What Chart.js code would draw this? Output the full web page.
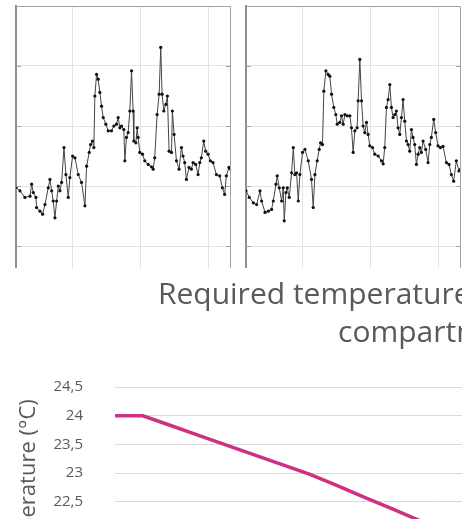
<!DOCTYPE html>
<html>
<head>
<meta charset="utf-8">
<title>Required temperature</title>
<script src="https://cdn.jsdelivr.net/npm/chart.js@4.4.1/dist/chart.umd.min.js"></script>
<style>
  html, body { margin: 0; padding: 0; background: #fff; overflow: hidden; }
  .clip { position: absolute; left: 0; width: 462px; overflow: hidden; }
  .wrap { position: absolute; left: 0; top: 0; }
</style>
</head>
<body>
<div class="clip" style="top:0;height:268px;">
  <div class="wrap" id="wrapLeft"><canvas id="left" width="219" height="304"></canvas></div>
  <div class="wrap" id="wrapRight"><canvas id="right" width="219" height="304"></canvas></div>
</div>
<div class="clip" style="top:268px;height:251px;">
  <div class="wrap" id="wrapReq"><canvas id="req" width="870" height="340"></canvas></div>
</div>
<script>
// upper left panel, measured temperature (hour of day, °C)
const hours1 = [
  1.00, 1.35, 1.79, 2.24, 2.38, 2.53, 2.76, 2.82, 3.12, 3.35,
  3.56, 3.85, 4.00, 4.15, 4.29, 4.44, 4.59, 4.74, 4.88, 5.03,
  5.24, 5.41, 5.62, 5.76, 6.00, 6.21, 6.50, 6.79, 7.09, 7.24,
  7.47, 7.59, 7.76, 7.88, 7.97, 8.12, 8.26, 8.41, 8.56, 8.71,
  8.94, 9.15, 9.44, 9.65, 9.88, 10.03, 10.18, 10.32, 10.53, 10.62,
  10.76, 10.91, 11.06, 11.21, 11.35, 11.41, 11.59, 11.71, 11.79, 11.94,
  12.18, 12.38, 12.68, 12.97, 13.12, 13.26, 13.47, 13.65, 13.79, 13.91,
  14.06, 14.24, 14.38, 14.53, 14.74, 14.82, 14.97, 15.18, 15.41, 15.62,
  15.76, 15.91, 16.06, 16.29, 16.50, 16.65, 16.88, 17.09, 17.24, 17.38,
  17.59, 17.76, 17.97, 18.18, 18.41, 18.71, 19.00, 19.24, 19.44, 19.59,
  19.82, 19.97
];
const temp1 = [
  21.98, 21.92, 21.81, 21.83, 22.03, 21.89, 21.81, 21.64, 21.58, 21.53,
  21.69, 21.97, 22.11, 21.92, 21.75, 21.47, 21.75, 22.00, 21.92, 22.06,
  22.64, 22.19, 21.81, 22.14, 22.50, 22.47, 22.19, 22.06, 21.67, 22.33,
  22.56, 22.69, 22.75, 22.64, 23.50, 23.86, 23.78, 23.56, 23.33, 23.14,
  23.03, 22.92, 22.92, 23.00, 23.03, 23.14, 22.97, 23.00, 22.94, 22.42,
  22.81, 22.89, 23.25, 23.92, 23.25, 22.75, 22.72, 22.97, 22.81, 22.56,
  22.53, 22.42, 22.36, 22.32, 22.28, 22.47, 23.19, 23.53, 24.31, 23.53,
  23.25, 23.36, 23.50, 22.58, 22.56, 23.25, 22.86, 22.42, 22.28, 22.64,
  22.50, 22.39, 22.11, 22.31, 22.28, 22.39, 22.36, 22.19, 22.39, 22.47,
  22.75, 22.58, 22.53, 22.42, 22.39, 22.19, 22.17, 21.97, 21.86, 22.17,
  22.31, 22.28
];

// upper right panel
const hours2 = [
  1.00, 1.29, 1.65, 1.94, 2.24, 2.38, 2.68, 2.97, 3.26, 3.41,
  3.65, 3.76, 3.94, 4.15, 4.29, 4.38, 4.53, 4.65, 4.82, 5.03,
  5.18, 5.32, 5.47, 5.62, 5.76, 6.00, 6.21, 6.50, 6.79, 6.94,
  7.09, 7.29, 7.47, 7.59, 7.76, 7.88, 8.06, 8.26, 8.41, 8.56,
  8.76, 8.94, 9.06, 9.29, 9.44, 9.59, 9.74, 9.94, 10.18, 10.32,
  10.47, 10.62, 10.82, 10.91, 11.06, 11.21, 11.35, 11.50, 11.65, 11.79,
  11.94, 12.18, 12.38, 12.68, 12.97, 13.12, 13.26, 13.41, 13.56, 13.71,
  13.85, 14.00, 14.15, 14.29, 14.44, 14.59, 14.74, 14.88, 15.03, 15.18,
  15.32, 15.47, 15.62, 15.76, 15.91, 16.06, 16.21, 16.35, 16.50, 16.65,
  16.88, 17.09, 17.24, 17.38, 17.59, 17.76, 17.97, 18.18, 18.41, 18.71,
  18.94, 19.15, 19.35, 19.59, 19.82, 19.97
];
const temp2 = [
  21.92, 21.81, 21.72, 21.69, 21.92, 21.75, 21.56, 21.58, 21.61, 21.75,
  22.03, 22.17, 21.97, 21.75, 21.97, 21.42, 21.89, 21.97, 21.81, 22.22,
  22.64, 22.19, 22.22, 21.75, 22.19, 22.56, 22.61, 22.42, 22.11, 21.64,
  22.19, 22.42, 22.61, 22.72, 22.69, 23.58, 23.92, 23.86, 23.83, 23.53,
  23.31, 23.19, 23.03, 23.06, 23.17, 23.03, 23.19, 23.17, 23.17, 22.97,
  22.56, 22.92, 22.97, 23.42, 24.11, 23.42, 23.00, 22.89, 23.06, 22.86,
  22.67, 22.64, 22.53, 22.50, 22.42, 22.37, 22.64, 23.31, 23.44, 23.69,
  23.31, 23.14, 23.19, 23.25, 22.97, 22.86, 23.14, 23.44, 23.08, 22.75,
  22.69, 22.58, 22.94, 22.81, 22.69, 22.36, 22.53, 22.64, 22.56, 22.75,
  22.61, 22.39, 22.69, 22.81, 23.11, 22.89, 22.67, 22.64, 22.66, 22.39,
  22.36, 22.19, 22.08, 22.42, 22.25, 22.28
];
const panelXTicks = [6, 12, 18];
const panelYTicks = [21, 22, 23, 24];

// lower chart, required temperature
const hourLabels = ['0', '1', '2', '3', '4', '5', '6', '7', '8', '9', '10', '11',
  '12', '13', '14', '15', '16', '17', '18', '19', '20', '21', '22', '23'];
const required = [24, 24, 23.83, 23.66, 23.49, 23.32, 23.15, 22.98, 22.78, 22.57, 22.37, 22.16, 21.96, 21.75];
const titleLines = ['Required temperature in the passenger', 'compartment'];
const yTitle = 'Temperature (°C)';

Chart.defaults.font.family = 'Open Sans';

//top and right edge of the small panels, plus the short inward ticks
const panelFrame = {
  id: 'panelFrame',
  afterDraw(chart) {
    const { ctx, chartArea: a, scales } = chart;
    ctx.save();
    ctx.strokeStyle = '#a3a3a3';
    ctx.lineWidth = 1;
    ctx.beginPath();
    ctx.moveTo(a.left, a.top + 0.5);
    ctx.lineTo(a.right - 0.5, a.top + 0.5);
    ctx.lineTo(a.right - 0.5, a.bottom);
    scales.y.ticks.forEach(t => {
      const py = Math.round(scales.y.getPixelForValue(t.value)) + 0.5;
      ctx.moveTo(a.left, py);
      ctx.lineTo(a.left + 5, py);
      ctx.moveTo(a.right, py);
      ctx.lineTo(a.right - 5, py);
    });
    ctx.stroke();
    ctx.restore();
  }
};

function panel(id, xs, ys) {
  return new Chart(document.getElementById(id), {
    type: 'scatter',
    data: {
      datasets: [{
        data: xs.map((x, i) => ({ x: x, y: ys[i] })),
        showLine: true,
        borderColor: '#444444',
        borderWidth: 1,
        pointRadius: 1.6,
        pointBackgroundColor: '#111111',
        pointBorderWidth: 0
      }]
    },
    options: {
      responsive: false,
      maintainAspectRatio: false,
      animation: false,
      layout: { padding: 2 },
      plugins: { legend: { display: false }, tooltip: { enabled: false } },
      scales: {
        x: {
          type: 'linear', min: 1, max: 20,
          afterBuildTicks: s => { s.ticks = panelXTicks.map(v => ({ value: v })); },
          ticks: { display: false },
          grid: { color: '#e3e3e3', drawTicks: false },
          border: { display: false }
        },
        y: {
          min: 20, max: 25,
          afterBuildTicks: s => { s.ticks = panelYTicks.map(v => ({ value: v })); },
          ticks: { display: false },
          grid: { color: '#e3e3e3', drawTicks: false },
          border: { color: '#8f8f8f', width: 2 }
        }
      }
    },
    plugins: [panelFrame]
  });
}

// resize the canvas so the plot area gets the wanted size, then move it in place
function fitArea(chart, wrap, left, top, width, height) {
  let a = chart.chartArea;
  chart.resize(Math.round(chart.width + width - (a.right - a.left)),
               Math.round(chart.height + height - (a.bottom - a.top)));
  chart.update();
  a = chart.chartArea;
  wrap.style.left = (left - a.left) + 'px';
  wrap.style.top = (top - a.top) + 'px';
}

const leftPanel = panel('left', hours1, temp1);
const rightPanel = panel('right', hours2, temp2);
fitArea(leftPanel, document.getElementById('wrapLeft'), 16, 6, 215, 300);
fitArea(rightPanel, document.getElementById('wrapRight'), 246, 6, 215, 300);

// the title is centred on the canvas, so the canvas width puts line one where it starts
const titleSize = 30;
const titleLh = 1.27;
const measure = document.createElement('canvas').getContext('2d');
measure.font = titleSize + 'px "Open Sans"';
const reqWidth = Math.round(2 * (158 + measure.measureText(titleLines[0]).width / 2));
const step = 27.86;
const plotWidth = step * (hourLabels.length - 1);
const rightGap = Math.max(0, reqWidth - 115 - plotWidth);

const reqCanvas = document.getElementById('req');
reqCanvas.width = reqWidth;

const req = new Chart(reqCanvas, {
  type: 'line',
  data: {
    labels: hourLabels,
    datasets: [{
      data: required,
      borderColor: '#cf3182',
      borderWidth: 3.5,
      pointRadius: 0,
      tension: 0,
      yAxisID: 'y'
    }]
  },
  options: {
    responsive: false,
    maintainAspectRatio: false,
    animation: false,
    layout: { padding: 0 },
    plugins: {
      legend: { display: false },
      tooltip: { enabled: false },
      title: {
        display: true,
        text: titleLines,
        color: '#595959',
        font: { size: titleSize, weight: 'normal', lineHeight: titleLh },
        padding: { top: 0, bottom: 40 }
      }
    },
    scales: {
      x: { display: false },
      y: {
        min: 21, max: 24.5,
        ticks: {
          stepSize: 0.5,
          padding: 32,
          color: '#595959',
          font: { size: 15 },
          callback: v => v.toString().replace('.', ',')
        },
        grid: { color: '#d9d9d9', drawTicks: false },
        border: { display: false },
        title: {
          display: true,
          text: yTitle,
          color: '#595959',
          font: { size: 22 },
          padding: { top: 16, bottom: 0 }
        },
        afterFit: s => { s.width = 115; }
      },
      y2: {
        type: 'linear',
        position: 'right',
        ticks: { display: false },
        grid: { display: false },
        border: { display: false },
        afterFit: s => { s.width = rightGap; }
      }
    }
  }
});

// first title line sits 92px above the 24,5 gridline
const lineHeight = titleSize * titleLh;
const gap = req.chartArea.top - (req.titleBlock.top + lineHeight / 2);
req.options.plugins.title.padding = { top: 0, bottom: 40 + 92 - gap };
req.update();
fitArea(req, document.getElementById('wrapReq'), 115, 387 - 268, plotWidth, 201.25);
</script>
</body>
</html>
